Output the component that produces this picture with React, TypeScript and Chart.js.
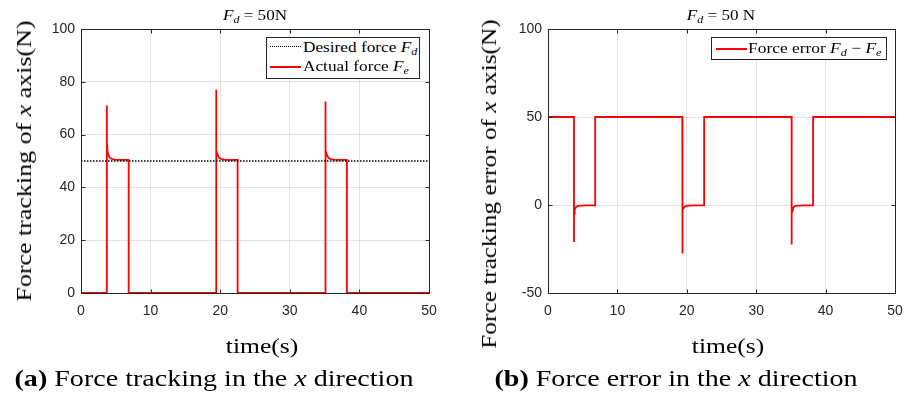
import React, { useEffect, useRef } from "react";
import { Chart, registerables } from "chart.js";

Chart.register(...registerables);

// ---------- data ----------
const xTicks = [0, 10, 20, 30, 40, 50];
const forceTicks = [0, 20, 40, 60, 80, 100];
const errorTicks = [-50, 0, 50, 100];

const desiredTime = [0, 50];
const desiredForce = [50, 50];

const forceTime = [
  0,
  3.7, 3.7, 3.7, 3.73, 3.8, 3.9, 4.05, 4.25, 4.5, 4.9, 5.5, 6.85, 6.85,
  19.4, 19.4, 19.4, 19.43, 19.5, 19.6, 19.75, 19.95, 20.2, 20.6, 21.2, 22.5, 22.5,
  35.1, 35.1, 35.1, 35.13, 35.2, 35.3, 35.45, 35.65, 35.9, 36.3, 36.9, 38.2, 38.2,
  50,
];
const actualForce = [
  0,
  0, 71, 47, 57, 54, 52.6, 51.6, 51, 50.7, 50.5, 50.4, 50.4, 0,
  0, 77, 45, 57, 54, 52.6, 51.6, 51, 50.7, 50.5, 50.4, 50.4, 0,
  0, 72.5, 46, 57, 54, 52.6, 51.6, 51, 50.7, 50.5, 50.4, 50.4, 0,
  0,
];

const errorTime = [
  0,
  3.74, 3.74, 3.74, 3.77, 3.84, 3.94, 4.1, 4.3, 4.55, 4.95, 5.5, 6.8, 6.8,
  19.35, 19.35, 19.35, 19.38, 19.45, 19.55, 19.7, 19.9, 20.15, 20.55, 21.1, 22.5, 22.5,
  35.1, 35.1, 35.1, 35.13, 35.2, 35.3, 35.45, 35.65, 35.9, 36.3, 36.9, 38.2, 38.2,
  50,
];
const forceError = [
  50,
  50, -21, 3, -5, -3, -1.8, -1, -0.6, -0.4, -0.3, -0.2, -0.2, 50,
  50, -27.5, 3, -5, -3, -1.8, -1, -0.6, -0.4, -0.3, -0.2, -0.2, 50,
  50, -22.5, 3, -5, -3, -1.8, -1, -0.6, -0.4, -0.3, -0.2, -0.2, 50,
  50,
];

// ---------- helpers ----------
const SERIF = '"Liberation Serif", "DejaVu Serif", serif';
const SANS = '"Liberation Sans", Arial, sans-serif';
const AXIS = "#262626";
const GRID = "rgba(0,0,0,0.11)";

const zip = (xs: number[], ys: number[]) => xs.map((x, i) => ({ x, y: ys[i] }));

const framePlugin = {
  id: "frame",
  afterDraw(chart: any) {
    const { ctx, chartArea: a, scales } = chart;
    ctx.save();
    ctx.strokeStyle = AXIS;
    ctx.lineWidth = 1;
    const L = Math.round(a.left) + 0.5;
    const R = Math.round(a.right) + 0.5;
    const T = Math.round(a.top) + 0.5;
    const B = Math.round(a.bottom) + 0.5;
    ctx.beginPath();
    const tl = 4;
    scales.x.ticks.forEach((t: any) => {
      const px = Math.round(scales.x.getPixelForValue(t.value)) + 0.5;
      ctx.moveTo(px, B);
      ctx.lineTo(px, B - tl);
      ctx.moveTo(px, T);
      ctx.lineTo(px, T + tl);
    });
    scales.y.ticks.forEach((t: any) => {
      const py = Math.round(scales.y.getPixelForValue(t.value)) + 0.5;
      ctx.moveTo(L, py);
      ctx.lineTo(L + tl, py);
      ctx.moveTo(R, py);
      ctx.lineTo(R - tl, py);
    });
    ctx.stroke();
    ctx.strokeRect(L, T, R - L, B - T);
    ctx.restore();
  },
};

function makeOptions(yTicks: number[], pad: any) {
  return {
    responsive: false,
    animation: false as const,
    devicePixelRatio: 1,
    layout: { padding: pad },
    plugins: { legend: { display: false }, title: { display: false }, tooltip: { enabled: false } },
    elements: { point: { radius: 0 }, line: { tension: 0 } },
    scales: {
      x: {
        type: "linear" as const,
        min: xTicks[0],
        max: xTicks[xTicks.length - 1],
        afterBuildTicks: (s: any) => {
          s.ticks = xTicks.map((v) => ({ value: v }));
        },
        afterFit: (s: any) => {
          s.height = 30;
          s.paddingLeft = 0;
          s.paddingRight = 0;
        },
        grid: { color: GRID, drawTicks: false, lineWidth: 1 },
        border: { display: false },
        ticks: { color: AXIS, font: { family: SANS, size: 14 }, padding: 10, maxRotation: 0 },
      },
      y: {
        type: "linear" as const,
        min: yTicks[0],
        max: yTicks[yTicks.length - 1],
        afterBuildTicks: (s: any) => {
          s.ticks = yTicks.map((v) => ({ value: v }));
        },
        afterFit: (s: any) => {
          s.width = 40;
          s.paddingTop = 0;
          s.paddingBottom = 0;
        },
        grid: { color: GRID, drawTicks: false, lineWidth: 1 },
        border: { display: false },
        ticks: { color: AXIS, font: { family: SANS, size: 14 }, padding: 6 },
      },
    },
  };
}

function ChartCanvas({ config, width, height }: { config: any; width: number; height: number }) {
  const ref = useRef<HTMLCanvasElement | null>(null);
  useEffect(() => {
    if (!ref.current) return;
    const c = new Chart(ref.current, config);
    return () => c.destroy();
  }, []);
  return <canvas ref={ref} width={width} height={height} style={{ width, height, display: "block" }} />;
}

const Fsub = ({ s }: { s: string }) => (
  <span>
    <i>F</i>
    <sub style={{ fontStyle: "italic", fontSize: "0.7em", verticalAlign: "-0.3em" }}>{s}</sub>
  </span>
);

export default function App() {
  const leftConfig = {
    type: "line",
    data: {
      datasets: [
        {
          data: zip(desiredTime, desiredForce),
          borderColor: "#000000",
          borderWidth: 1.5,
          borderDash: [1.5, 1.5],
        },
        {
          data: zip(forceTime, actualForce),
          borderColor: "#ff0000",
          borderWidth: 1.8,
        },
      ],
    },
    options: makeOptions(forceTicks, { left: 41, right: 11, top: 29, bottom: 73 }),
    plugins: [framePlugin],
  };
  const rightConfig = {
    type: "line",
    data: {
      datasets: [
        {
          data: zip(errorTime, forceError),
          borderColor: "#ff0000",
          borderWidth: 1.8,
        },
      ],
    },
    options: makeOptions(errorTicks, { left: 48, right: 18, top: 29, bottom: 73 }),
    plugins: [framePlugin],
  };

  const abs = (s: any): React.CSSProperties => ({ position: "absolute", whiteSpace: "nowrap", ...s });
  const centered = (sx: number, rot = false) =>
    `translate(-50%,-50%)${rot ? " rotate(-90deg)" : ""} scaleX(${sx})`;

  return (
    <div style={{ position: "absolute", left: 0, top: 0, width: 913, height: 396, background: "#fff", overflow: "hidden", fontFamily: SERIF, color: "#000" }}>
      <div style={abs({ left: 0, top: 0 })}>
        <ChartCanvas config={leftConfig} width={440} height={396} />
      </div>
      <div style={abs({ left: 460, top: 0 })}>
        <ChartCanvas config={rightConfig} width={453} height={396} />
      </div>

      {/* titles */}
      <div style={abs({ left: 255, top: 16, transform: centered(1.14), fontSize: 15 })}>
        <Fsub s="d" /> = 50N
      </div>
      <div style={abs({ left: 721, top: 16, transform: centered(1.14), fontSize: 15 })}>
        <Fsub s="d" /> = 50 N
      </div>

      {/* y titles */}
      <div style={abs({ left: 24, top: 161, transform: centered(1.18, true), fontSize: 22 })}>
        Force tracking of <i>x</i> axis(N)
      </div>
      <div style={abs({ left: 489, top: 184, transform: centered(1.15, true), fontSize: 22 })}>
        Force tracking error of <i>x</i> axis(N)
      </div>

      {/* x titles */}
      <div style={abs({ left: 262, top: 346, transform: centered(1.16), fontSize: 22 })}>time(s)</div>
      <div style={abs({ left: 728, top: 346, transform: centered(1.16), fontSize: 22 })}>time(s)</div>

      {/* captions */}
      <div style={abs({ left: 214, top: 379, transform: centered(1.22), fontSize: 23 })}>
        <b>(a)</b> Force tracking in the <i>x</i> direction
      </div>
      <div style={abs({ left: 676, top: 379, transform: centered(1.22), fontSize: 23 })}>
        <b>(b)</b> Force error in the <i>x</i> direction
      </div>

      {/* legends */}
      <div style={abs({ left: 266, top: 37, width: 152, height: 40, border: `1px solid ${AXIS}`, background: "#fff", fontSize: 15 })}>
        <div style={abs({ left: 3, top: 8, width: 31, borderTop: "1.5px dotted #000" })} />
        <div style={abs({ left: 36, top: 0, lineHeight: "19px", transform: "scaleX(1.15)", transformOrigin: "left center" })}>
          Desired force <Fsub s="d" />
        </div>
        <div style={abs({ left: 3, top: 28, width: 31, borderTop: "2px solid #ff0000" })} />
        <div style={abs({ left: 36, top: 19, lineHeight: "19px", transform: "scaleX(1.15)", transformOrigin: "left center" })}>
          Actual force <Fsub s="e" />
        </div>
      </div>
      <div style={abs({ left: 711, top: 37, width: 174, height: 21, border: `1px solid ${AXIS}`, background: "#fff", fontSize: 15 })}>
        <div style={abs({ left: 4, top: 10, width: 31, borderTop: "2px solid #ff0000" })} />
        <div style={abs({ left: 36, top: 1, lineHeight: "19px", transform: "scaleX(1.16)", transformOrigin: "left center" })}>
          Force error <Fsub s="d" /> − <Fsub s="e" />
        </div>
      </div>
    </div>
  );
}
